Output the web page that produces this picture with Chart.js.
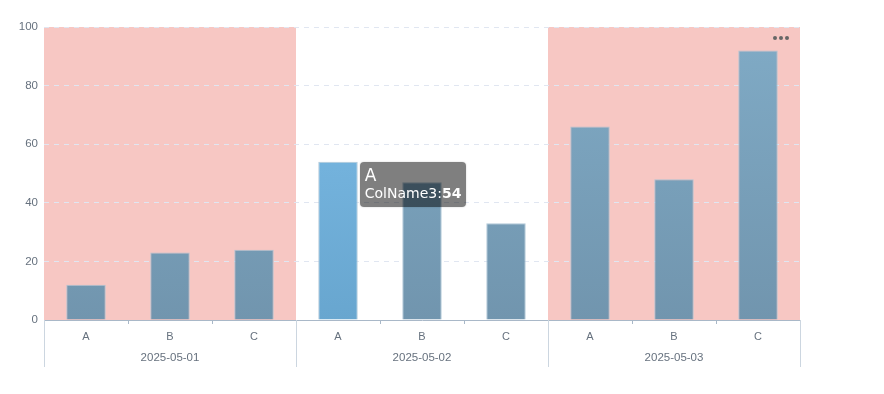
<!DOCTYPE html>
<html>
<head>
<meta charset="utf-8">
<script src="https://cdn.jsdelivr.net/npm/chart.js@4"></script>
<style>
  html, body { margin: 0; padding: 0; background: #fff; }
  #wrap { position: relative; width: 884px; height: 394px; }
  #tip {
    position: absolute; display: none; pointer-events: none;
    background: rgba(0,0,0,0.5); color: #fff; border-radius: 4px;
    padding: 4px 5px 5px 5px; font-family: "DejaVu Sans", Verdana, sans-serif;
    box-shadow: 0 0 2px rgba(0,0,0,0.2); white-space: nowrap;
  }
  #tip .t { font-size: 17px; line-height: 18px; }
  #tip .b { font-size: 14px; line-height: 18px; }
</style>
</head>
<body>
<div id="wrap">
  <canvas id="chart" width="884" height="394"></canvas>
  <div id="tip"></div>
</div>
<script>
const categories = ['A', 'B', 'C', 'A', 'B', 'C', 'A', 'B', 'C'];
const groups = ['2025-05-01', '2025-05-02', '2025-05-03'];
const groupSize = 3;
const shadedGroups = [0, 2];
const seriesName = 'ColName3';
const values = [12, 23, 24, 54, 47, 33, 66, 48, 92];
const yTicks = [0, 20, 40, 60, 80, 100];
const activeIndex = 3;

const AXIS = '#66717e';
const FONT = '"Liberation Sans", Arial, sans-serif';

function barFill(ctx) {
  const chart = ctx.chart;
  const area = chart.chartArea;
  if (!area) return '#7799b3';
  const g = chart.ctx.createLinearGradient(0, area.top, 0, area.bottom);
  if (ctx.dataIndex === activeIndex) {
    g.addColorStop(0, '#7dbde8');
    g.addColorStop(1, '#68a6cf');
  } else {
    g.addColorStop(0, '#80abc6');
    g.addColorStop(1, '#7195ae');
  }
  return g;
}

// pink bands behind grid, group labels + separators below the axis
const groupPlugin = {
  id: 'groups',
  beforeDraw(chart) {
    const { ctx, chartArea, scales } = chart;
    const x = scales.x;
    const step = (chartArea.right - chartArea.left) / categories.length;
    ctx.save();
    ctx.fillStyle = '#f7c7c3';
    shadedGroups.forEach(gi => {
      const left = x.getPixelForValue(gi * groupSize) - step / 2;
      ctx.fillRect(left, chartArea.top, step * groupSize, chartArea.bottom - chartArea.top);
    });
    ctx.restore();
  },
  afterDraw(chart) {
    const { ctx, chartArea, scales } = chart;
    const x = scales.x;
    const step = (chartArea.right - chartArea.left) / categories.length;
    ctx.save();
    ctx.strokeStyle = '#ccd6e0';
    ctx.lineWidth = 1;
    for (let i = 0; i <= groups.length; i++) {
      const px = Math.round(chartArea.left + i * step * groupSize) + 0.5;
      ctx.beginPath();
      ctx.moveTo(px, chartArea.bottom);
      ctx.lineTo(px, chartArea.bottom + 47);
      ctx.stroke();
    }
    ctx.fillStyle = AXIS;
    ctx.font = '11.5px ' + FONT;
    ctx.textAlign = 'center';
    ctx.textBaseline = 'middle';
    groups.forEach((g, i) => {
      const cx = x.getPixelForValue(i * groupSize + 1);
      ctx.fillText(g, cx, chartArea.bottom + 38);
    });
    // toolbox dots
    ctx.fillStyle = '#666';
    for (let i = 0; i < 3; i++) {
      ctx.beginPath();
      ctx.arc(chartArea.right - 25 + i * 6, chartArea.top + 11, 2, 0, Math.PI * 2);
      ctx.fill();
    }
    ctx.restore();
  }
};

function externalTip(context) {
  const tip = document.getElementById('tip');
  const t = context.tooltip;
  if (!t || t.opacity === 0 || !t.dataPoints || !t.dataPoints.length) {
    tip.style.display = 'none';
    return;
  }
  const dp = t.dataPoints[0];
  const el = dp.element;
  tip.innerHTML = '<div class="t">' + categories[dp.dataIndex] + '</div>' +
    '<div class="b">' + dp.dataset.label + ':<b>' + dp.raw + '</b></div>';
  tip.style.display = 'block';
  tip.style.left = (el.x + el.width / 2 + 2) + 'px';
  tip.style.top = el.y + 'px';
}

const chart = new Chart(document.getElementById('chart'), {
  type: 'bar',
  data: {
    labels: categories,
    datasets: [{
      label: seriesName,
      data: values,
      backgroundColor: barFill,
      hoverBackgroundColor: barFill,
      borderColor: 'rgba(170,195,212,0.9)',
      hoverBorderColor: 'rgba(170,195,212,0.9)',
      borderWidth: 1,
      barPercentage: 0.47,
      categoryPercentage: 1
    }]
  },
  plugins: [groupPlugin],
  options: {
    responsive: false,
    animation: false,
    events: [],
    layout: { padding: { top: 27, right: 84, left: 0, bottom: 0 } },
    plugins: {
      legend: { display: false },
      tooltip: { enabled: false, external: externalTip, mode: 'index', intersect: false }
    },
    scales: {
      x: {
        offset: true,
        grid: { display: true, offset: true, drawOnChartArea: false, drawTicks: true, tickLength: 4, color: '#a9b8c8' },
        border: { display: true, color: '#a9b8c8' },
        ticks: { color: AXIS, font: { family: FONT, size: 11 }, padding: 6, maxRotation: 0 },
        afterFit(s) { s.height = 74; }
      },
      y: {
        min: 0, max: 100,
        afterBuildTicks(s) { s.ticks = yTicks.map(v => ({ value: v })); },
        grid: {
          color: c => (c.tick && c.tick.value === 0 ? 'rgba(0,0,0,0)' : '#e0e6f1'),
          drawTicks: false
        },
        border: { display: false, dash: [5, 5] },
        ticks: { color: AXIS, font: { family: FONT, size: 11.5 }, padding: 6 },
        afterFit(s) { s.width = 44; }
      }
    }
  }
});

chart.tooltip.setActiveElements([{ datasetIndex: 0, index: activeIndex }], { x: 0, y: 0 });
chart.update();
</script>
</body>
</html>
